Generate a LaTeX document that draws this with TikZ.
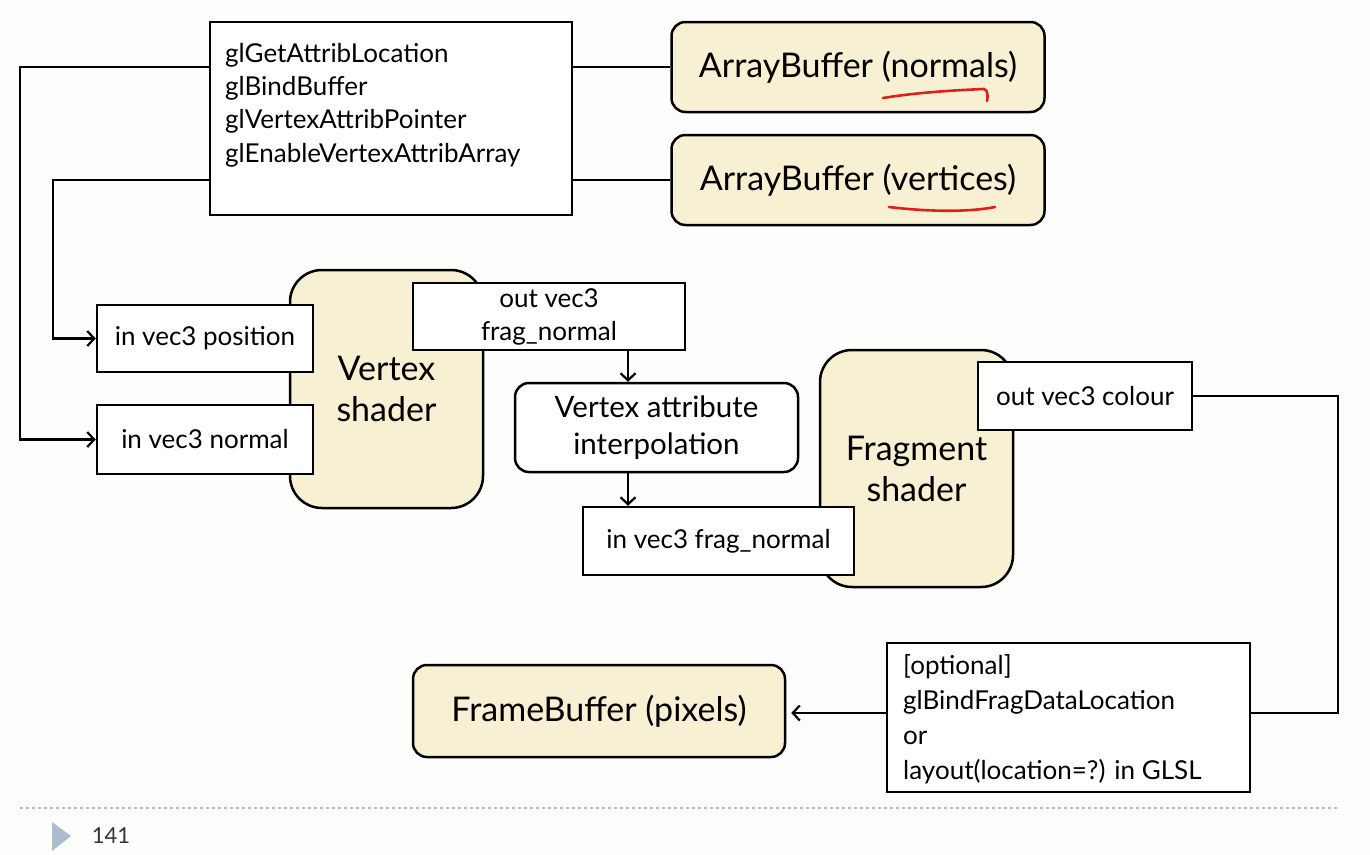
\documentclass[tikz,border=0pt]{standalone}
\usepackage{fontspec}
\setmainfont{Lato}
\usetikzlibrary{arrows.meta,calc}
\definecolor{cream}{RGB}{248,240,210}
\definecolor{slidebg}{RGB}{253,253,251}
\definecolor{footblue}{RGB}{170,188,206}
\definecolor{redpen}{RGB}{222,32,26}
\begin{document}
\begin{tikzpicture}[x=1pt,y=-1pt,
 box/.style={draw=black, line width=2.5pt, fill=white, inner sep=0pt, align=center},
 rbox/.style={box, rounded corners=14pt, fill=cream},
 shader/.style={box, rounded corners=32pt, fill=cream, font=\fontsize{34}{41}\selectfont},
 sm/.style={font=\fontsize{26}{33}\selectfont},
 lg/.style={font=\fontsize{34}{40}\selectfont},
 conn/.style={draw=black, line width=2.5pt},
 arr/.style={conn, -{Straight Barb[length=7pt,width=15pt,line width=2.2pt]}},
 underl/.style={draw=redpen, line width=2.6pt, line cap=round},
]
\fill[slidebg] (0,0) rectangle (1370,854);
\useasboundingbox (0,0) rectangle (1370,854);

% top left API box
\node[box, minimum width=362pt, minimum height=193pt] (gl) at (391,118.5) {};
\node[anchor=north west, align=left, inner sep=0pt, font=\fontsize{26}{33.3}\selectfont] (gltext) at (225,43)
  {glGetAttribLocation\\glBindBuffer\\glVertexAttribPointer\\glEnableVertexAttribArray};

% array buffers
\node[rbox, lg, minimum width=373pt, minimum height=90pt] (anorm) at (858,67) {ArrayBuffer (normals)};
\node[rbox, lg, minimum width=373pt, minimum height=90pt] (avert) at (858,180) {ArrayBuffer (vertices)};

% vertex shader
\node[shader, minimum width=193pt, minimum height=238pt] (vs) at (386.5,389) {Vertex\\shader};
\node[box, sm, minimum width=216pt, minimum height=67pt] (inpos) at (205,338.5) {in vec3 position};
\node[box, sm, minimum width=216pt, minimum height=69pt] (innorm) at (205,439.5) {in vec3 normal};
\node[box, sm, minimum width=272pt, minimum height=67pt] (outfn) at (549,316.5) {out vec3\\frag\_normal};

% interpolation
\node[box, rounded corners=14pt, font=\fontsize{29.5}{37}\selectfont, minimum width=283pt, minimum height=89pt] (vai) at (656.5,427.5) {Vertex attribute\\interpolation};

% fragment shader
\node[shader, minimum width=193pt, minimum height=237pt] (fs) at (916.5,468.5) {Fragment\\shader};
\node[box, sm, minimum width=271pt, minimum height=68pt] (infn) at (718.5,541) {in vec3 frag\_normal};
\node[box, sm, minimum width=214pt, minimum height=68pt] (outcol) at (1085,396) {out vec3 colour};

% output
\node[box, minimum width=363pt, minimum height=149pt] (opt) at (1068.5,717.5) {};
\node[anchor=north west, align=left, inner sep=0pt, font=\fontsize{26}{35}\selectfont] (opttext) at (903,654)
  {[optional]\\glBindFragDataLocation\\or\\layout(location=?) in GLSL};
\node[rbox, lg, minimum width=372pt, minimum height=92pt] (fb) at (599,711) {FrameBuffer (pixels)};

% red pen underlines
\draw[underl] (883,98) .. controls (920,92) and (960,90) .. (984,89) .. controls (988,90) and (988,96) .. (987,101);
\draw[underl] (889,207) .. controls (930,212) and (970,212) .. (995,207);

% connectors
\coordinate (k1) at (20,0);
\coordinate (k2) at (53,0);
\coordinate (k3) at (1338,0);
\coordinate (k4) at (628,0);
\coordinate (k5) at (0,713);
\draw[conn] (gl.east |- anorm) -- (anorm.west);
\draw[conn] (gl.east |- avert) -- (avert.west);
\draw[arr] (gl.west |- anorm) -- (k1 |- anorm) |- (innorm.west);
\draw[arr] (gl.west |- avert) -- (k2 |- avert) |- (inpos.west);
\draw[arr] (outfn.south -| k4) -- (vai.north -| k4);
\draw[arr] (vai.south -| k4) -- (infn.north -| k4);
\draw[conn] (outcol.east) -- (k3 |- outcol) -- (k3 |- k5) -- (opt.east |- k5);
\draw[arr, shorten >=5pt] (opt.west |- k5) -- (fb.east |- k5);

% footer
\draw[footblue, line width=1.3pt, dash pattern=on 3pt off 3pt] (20,808) -- (1340,808);
\fill[footblue] (52,822) -- (71,836) -- (52,851) -- cycle;
\node[font=\fontsize{22}{26}\selectfont, text=black!80] (pagenum) at (111,836) {141};
\end{tikzpicture}
\end{document}
